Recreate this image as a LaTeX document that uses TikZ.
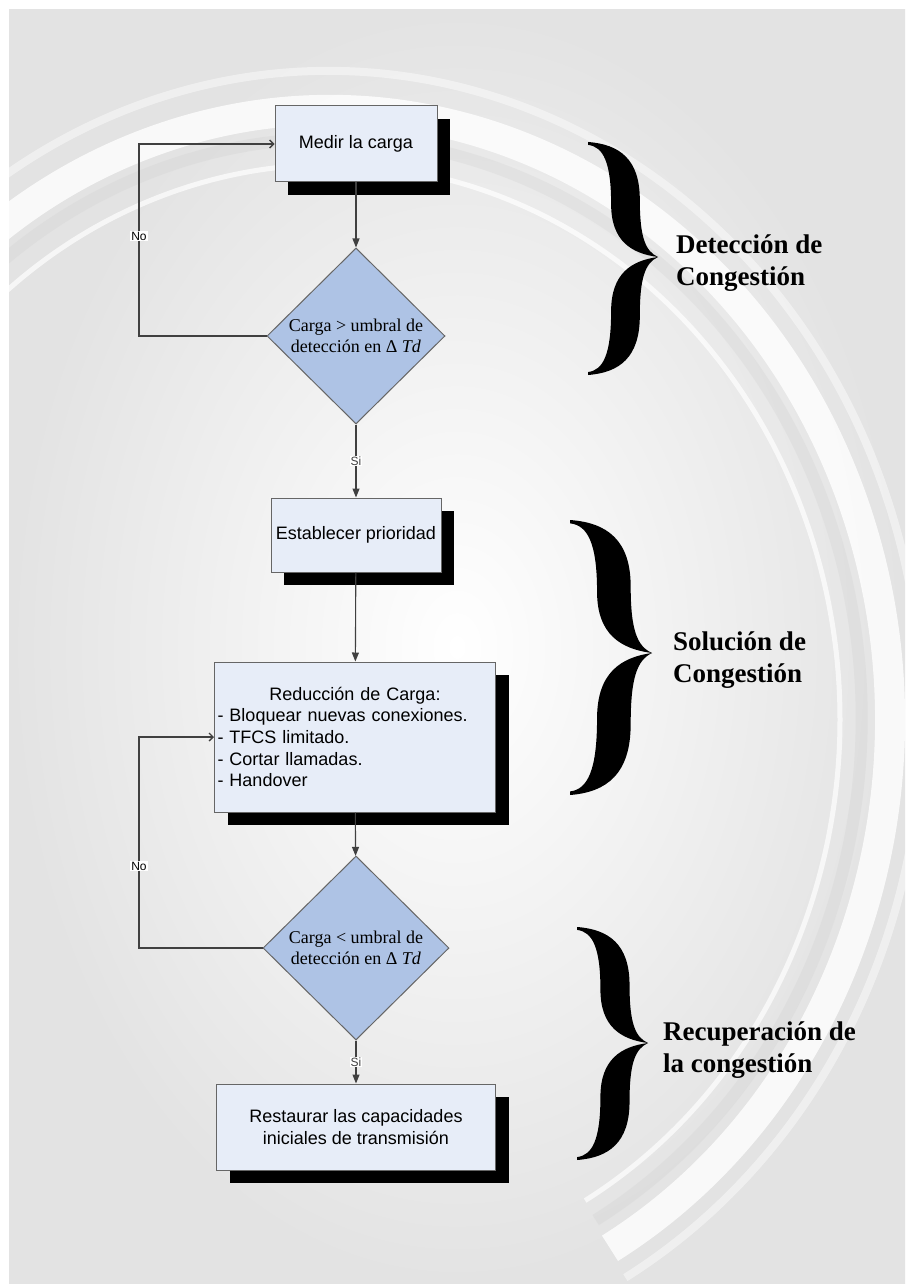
\documentclass[tikz,border=0pt]{standalone}
\usepackage{fontspec}
\setmainfont{Liberation Serif}
\setsansfont{Liberation Sans}
\usetikzlibrary{shapes.geometric,arrows.meta,shadows}

% one arm of a curly brace, unit size, end at (0,-1), tip at (1,0)
\def\bracearm{(0,-1) .. controls (0.45,-0.98) and (0.74,-0.85) .. (0.74,-0.5)
  .. controls (0.74,-0.17) and (0.82,-0.05) .. (1,0)
  .. controls (0.62,-0.03) and (0.33,-0.14) .. (0.33,-0.46)
  .. controls (0.33,-0.82) and (0.22,-0.96) .. (0,-0.975) -- cycle}
\def\swoosh{(330,720) ++(160:560 and 610) arc[start angle=160, end angle=420, x radius=560, y radius=610]}

\definecolor{box area}{HTML}{E7EDF8}
\definecolor{test area}{HTML}{AEC3E5}
\colorlet{box edge}{black!60}
\colorlet{flow line}{black!75}
\colorlet{page area}{black!11}

\tikzset{
  stepbox/.style={rectangle, draw=box edge, fill=box area, line width=1pt, inner sep=0pt,
    font=\sffamily\fontsize{18}{21.7}\selectfont,
    drop shadow={shadow xshift=13pt, shadow yshift=-13pt, fill=black, opacity=1}},
  test/.style={diamond, draw=box edge, fill=test area, line width=1pt, inner sep=0pt,
    align=center, font=\fontsize{18}{21}\selectfont},
  answer/.style={fill=white, inner sep=1pt, font=\sffamily\fontsize{12}{12}\selectfont},
  phase/.style={anchor=west, align=left, inner sep=0pt, font=\bfseries\fontsize{27}{32}\selectfont}
  }
\tikzstyle{edge} = [draw, flow line, line width=1.1pt, -{Triangle[length=9pt,width=7pt]}]
\tikzstyle{loop} = [draw, flow line, line width=1.3pt, -{Straight Barb[length=4pt,width=8pt]}]

\begin{document}
\begin{tikzpicture}[x=1pt, y=-1pt]
  \useasboundingbox (0,0) rectangle (905,1284);

  % background
  \begin{scope}
    \clip (9,10) rectangle (905,1284);
    \shade[inner color=white, outer color=page area] (9,10) rectangle (905,1284);
    \draw[white, line width=30pt, opacity=0.8] \swoosh;
    \draw[black!20, line width=12pt, opacity=0.25, xscale=0.95, yscale=0.95, shift={(17,36)}] \swoosh;
    \draw[white, line width=5pt, opacity=0.7, xscale=0.91, yscale=0.91, shift={(33,71)}] \swoosh;
    \draw[white, line width=8pt, opacity=0.45, xscale=1.06, yscale=1.06, shift={(-20,-43)}] \swoosh;
  \end{scope}

  % flow chart
  \node[stepbox, minimum width=162pt, minimum height=76pt] (medir) at (356,144) {Medir la carga};
  \node[test, minimum width=178pt, minimum height=176pt] (d1) at (356,336)
    {Carga > umbral de\\detección en Δ \textit{Td}};
  \node[stepbox, minimum width=170pt, minimum height=74pt] (prio) at (356,535) {Establecer prioridad};
  \node[stepbox, minimum width=281pt, minimum height=150pt, inner xsep=3pt, text width=275pt, align=left]
    (reduc) at (355,737)
    {\makebox[275pt][c]{Reducción de Carga:}\\- Bloquear nuevas conexiones.\\- TFCS limitado.\\- Cortar llamadas.\\- Handover};
  \node[test, minimum width=186pt, minimum height=184pt] (d2) at (356,948)
    {Carga < umbral de\\detección en Δ \textit{Td}};
  \node[stepbox, minimum width=279pt, minimum height=86pt, align=center] (rest) at (356,1127)
    {Restaurar las capacidades\\iniciales de transmisión};

  \coordinate (no1) at (139,236);
  \coordinate (no2) at (139,866);

  \path[edge] (medir) -- (d1);
  \path[edge] (d1) -- node[answer] {Si} (prio);
  \path[edge] (prio) -- (reduc);
  \path[edge] (reduc) -- (d2);
  \path[edge] (d2) -- node[answer] {Si} (rest);
  \path[loop] (d1.west) -| (no1) |- (medir.west);
  \path[loop] (d2.west) -| (no2) |- (reduc.west);
  \node[answer] (lab1) at (no1) {No};
  \node[answer] (lab2) at (no2) {No};

  % braces and phases
  \fill[shift={(588,257)}, xscale=70, yscale=115] \bracearm;
  \fill[shift={(588,257)}, xscale=70, yscale=-118] \bracearm;
  \node[phase] (det) at (676,263) {Detección de\\Congestión};

  \fill[shift={(570,653)}, xscale=82, yscale=133] \bracearm;
  \fill[shift={(570,653)}, xscale=82, yscale=-142] \bracearm;
  \node[phase] (sol) at (673,660) {Solución de\\Congestión};

  \fill[shift={(577,1043)}, xscale=71, yscale=116] \bracearm;
  \fill[shift={(577,1043)}, xscale=71, yscale=-117] \bracearm;
  \node[phase] (rec) at (663,1050) {Recuperación de\\la congestión};
\end{tikzpicture}
\end{document}
